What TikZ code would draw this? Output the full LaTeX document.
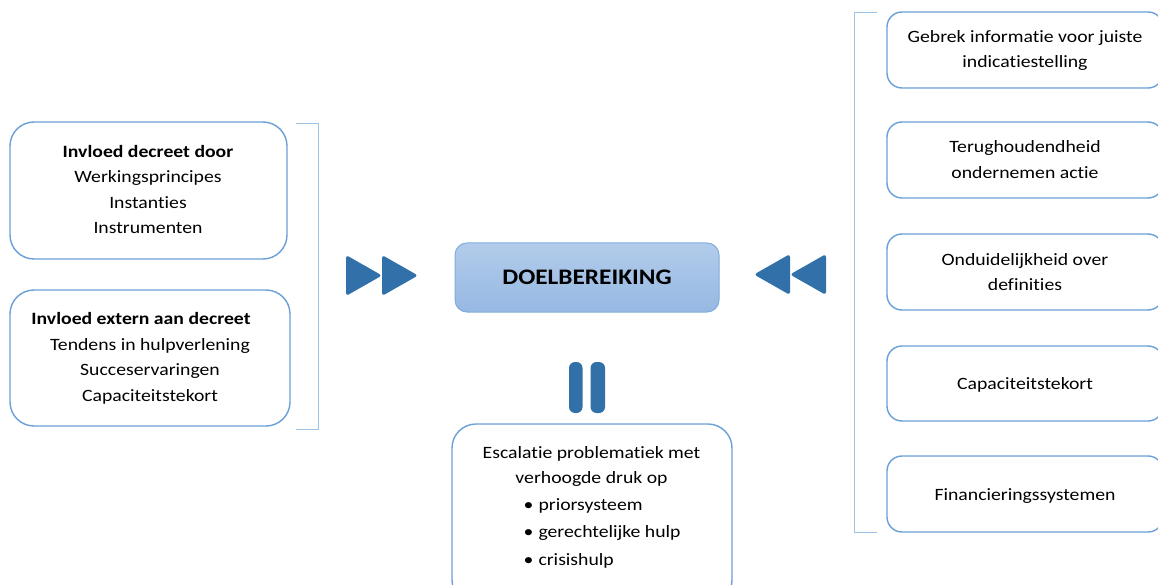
\documentclass[tikz,border=0pt]{standalone}
\usepackage{fontspec}
\setmainfont{Carlito}[FakeStretch=1.14, Ligatures=NoCommon]
\definecolor{boxline}{HTML}{6A9FD8}
\definecolor{brk}{HTML}{9DC3E6}
\definecolor{arr}{HTML}{3170A8}
\definecolor{gtop}{HTML}{B2CCEB}
\definecolor{gbot}{HTML}{96B8E2}
\tikzset{
  rbox/.style={draw=boxline, line width=1.4pt, rounded corners=24pt, fill=white},
  sbox/.style={draw=boxline, line width=1.4pt, rounded corners=15pt, fill=white},
  txt/.style={anchor=base, inner sep=0pt, font=\fontsize{17.3}{20}\selectfont},
  ltxt/.style={anchor=base west, inner sep=0pt, font=\fontsize{17.3}{20}\selectfont},
  brack/.style={draw=brk, line width=1pt},
  tri/.style={fill=arr, rounded corners=3pt},
}
\begin{document}
\begin{tikzpicture}[x=1pt,y=-1pt]
\useasboundingbox (0,0) rectangle (1158,585);
% left boxes
\node[rbox, minimum width=277pt, minimum height=137pt] (L1) at (148.5,190.5) {};
\node[rbox, minimum width=280pt, minimum height=136pt] (L2) at (150,358) {};
\node[txt] (L1a) at (148,157.5) {\textbf{Invloed decreet door}};
\node[txt] (L1b) at (148,183) {Werkingsprincipes};
\node[txt] (L1c) at (148,208.5) {Instanties};
\node[txt] (L1d) at (148,234) {Instrumenten};
\node[txt] (L2a) at (141,324.5) {\textbf{Invloed extern aan decreet}};
\node[txt] (L2b) at (150,350) {Tendens in hulpverlening};
\node[txt] (L2c) at (150,375.5) {Succeservaringen};
\node[txt] (L2d) at (150,401) {Capaciteitstekort};
% left bracket
\coordinate (lb1) at (296,123.5);
\coordinate (lb2) at (318,123.5);
\coordinate (lb3) at (318,429.5);
\coordinate (lb4) at (296,429.5);
\draw[brack] (lb1) -- (lb2) -- (lb3) -- (lb4);
% center box
\node[draw=boxline!85, line width=1pt, rounded corners=12pt, top color=gtop, bottom color=gbot, minimum width=264pt, minimum height=69pt] (C) at (587,277.5) {};
\node[txt, font=\fontsize{22.2}{26}\selectfont\bfseries] (Ct) at (587,284) {DOELBEREIKING};
% forward triangles
\fill[tri] (346,255) -- (382,275.5) -- (346,296) -- cycle;
\fill[tri] (382,255) -- (418,275.5) -- (382,296) -- cycle;
% backward triangles
\fill[tri] (790,254) -- (754,274.5) -- (790,295) -- cycle;
\fill[tri] (826,254) -- (790,274.5) -- (826,295) -- cycle;
% pause
\fill[arr, rounded corners=6pt] (569,362) rectangle (582.5,413);
\fill[arr, rounded corners=6pt] (590.5,362) rectangle (605,413);
% bottom box
\node[rbox, minimum width=280pt, minimum height=180pt] (B) at (592,514) {};
\node[txt] (B1) at (591.5,458) {Escalatie problematiek met};
\node[txt] (B2) at (591.5,483.5) {verhoogde druk op};
\node[ltxt] (B3) at (523.5,510) {•\hspace{5pt}priorsysteem};
\node[ltxt] (B4) at (523.5,537.5) {•\hspace{5pt}gerechtelijke hulp};
\node[ltxt] (B5) at (523.5,565) {•\hspace{5pt}crisishulp};
% right bracket
\coordinate (rb1) at (877,12.5);
\coordinate (rb2) at (854.5,12.5);
\coordinate (rb3) at (854.5,532.5);
\coordinate (rb4) at (877,532.5);
\draw[brack] (rb1) -- (rb2) -- (rb3) -- (rb4);
% right boxes
\node[sbox, minimum width=276pt, minimum height=76pt] (R1) at (1025,50) {};
\node[sbox, minimum width=276pt, minimum height=76pt] (R2) at (1025,160) {};
\node[sbox, minimum width=276pt, minimum height=76pt] (R3) at (1025,272) {};
\node[sbox, minimum width=276pt, minimum height=75pt] (R4) at (1025,383.5) {};
\node[sbox, minimum width=276pt, minimum height=76pt] (R5) at (1025,494) {};
\node[txt] (R1a) at (1025,43) {Gebrek informatie voor juiste};
\node[txt] (R1b) at (1025,68) {indicatiestelling};
\node[txt] (R2a) at (1025,153) {Terughoudendheid};
\node[txt] (R2b) at (1025,178.5) {ondernemen actie};
\node[txt] (R3a) at (1025,265.5) {Onduidelijkheid over};
\node[txt] (R3b) at (1025,290.5) {definities};
\node[txt] (R4a) at (1025,389.5) {Capaciteitstekort};
\node[txt] (R5a) at (1025,500.5) {Financieringssystemen};
\end{tikzpicture}
\end{document}
